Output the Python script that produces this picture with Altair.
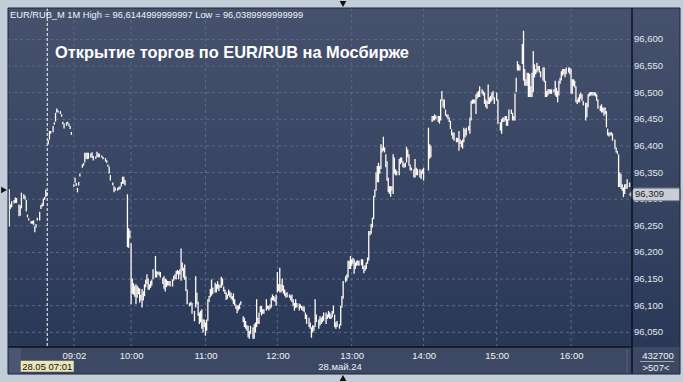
import altair as alt
import pandas as pd

# ---------------- data (bar index = 1-minute bar number, low, high) ----------------
bars_0701_0902 = [
    (1, 96.250, 96.318), (2, 96.283, 96.289), (3, 96.286, 96.295), (5, 96.293, 96.297),
    (6, 96.294, 96.302), (7, 96.294, 96.301), (9, 96.269, 96.289), (10, 96.270, 96.287),
    (11, 96.284, 96.311), (13, 96.302, 96.308), (14, 96.300, 96.305), (15, 96.278, 96.297),
    (16, 96.267, 96.270), (17, 96.261, 96.263), (19, 96.255, 96.258), (20, 96.255, 96.258),
    (21, 96.253, 96.259), (22, 96.239, 96.248), (23, 96.248, 96.252), (24, 96.261, 96.264),
    (26, 96.261, 96.275), (27, 96.283, 96.288), (28, 96.287, 96.291), (29, 96.289, 96.300),
    (30, 96.300, 96.303), (31, 96.305, 96.317), (32, 96.308, 96.312), (33, 96.404, 96.410),
    (34, 96.413, 96.427), (35, 96.424, 96.427), (37, 96.427, 96.436), (38, 96.441, 96.443),
    (39, 96.447, 96.461), (40, 96.464, 96.469), (41, 96.464, 96.466), (43, 96.461, 96.464),
    (44, 96.456, 96.458), (45, 96.442, 96.444), (46, 96.434, 96.441), (48, 96.439, 96.443),
    (49, 96.443, 96.444), (50, 96.438, 96.441), (51, 96.433, 96.436), (52, 96.422, 96.425),
]
bars_0902_1000 = [
    (54, 96.324, 96.327), (55, 96.332, 96.339), (56, 96.326, 96.329), (57, 96.314, 96.320),
    (58, 96.327, 96.331), (59, 96.344, 96.347), (61, 96.360, 96.364), (62, 96.364, 96.367),
    (63, 96.370, 96.386), (64, 96.377, 96.386), (65, 96.376, 96.386), (66, 96.377, 96.386),
    (68, 96.379, 96.385), (69, 96.379, 96.387), (70, 96.374, 96.380), (72, 96.377, 96.379),
    (73, 96.380, 96.388), (74, 96.380, 96.385), (75, 96.380, 96.384), (77, 96.379, 96.381),
    (78, 96.376, 96.378), (80, 96.372, 96.376), (81, 96.369, 96.372), (82, 96.362, 96.364),
    (83, 96.349, 96.360), (84, 96.336, 96.344), (86, 96.327, 96.330), (87, 96.314, 96.323),
    (88, 96.317, 96.320), (90, 96.317, 96.320), (91, 96.319, 96.322), (92, 96.320, 96.323),
    (93, 96.325, 96.331), (94, 96.330, 96.341), (95, 96.330, 96.341), (96, 96.327, 96.335),
    (98, 96.211, 96.308), (99, 96.210, 96.244), (100, 96.228, 96.240),
]
bars_1000_1100 = [
    (101, 96.104, 96.216), (102, 96.123, 96.150), (103, 96.122, 96.141), (104, 96.118, 96.136),
    (105, 96.104, 96.139), (106, 96.116, 96.136), (107, 96.123, 96.133), (108, 96.107, 96.131),
    (109, 96.111, 96.120), (110, 96.098, 96.130), (111, 96.111, 96.126), (112, 96.119, 96.139),
    (113, 96.136, 96.148), (114, 96.142, 96.158), (115, 96.131, 96.150), (116, 96.131, 96.139),
    (117, 96.135, 96.145), (118, 96.139, 96.148), (119, 96.151, 96.167), (121, 96.154, 96.192),
    (122, 96.154, 96.164), (123, 96.160, 96.162), (124, 96.158, 96.163), (125, 96.154, 96.162),
    (127, 96.142, 96.151), (128, 96.133, 96.154), (129, 96.128, 96.150), (130, 96.136, 96.148),
    (131, 96.139, 96.145), (132, 96.139, 96.145), (133, 96.137, 96.145), (135, 96.137, 96.148),
    (136, 96.148, 96.155), (137, 96.151, 96.158), (138, 96.151, 96.164), (139, 96.160, 96.166),
    (140, 96.151, 96.164), (141, 96.160, 96.167), (142, 96.148, 96.206), (143, 96.167, 96.180),
    (144, 96.154, 96.170), (145, 96.150, 96.176), (146, 96.129, 96.154), (147, 96.104, 96.129),
    (149, 96.100, 96.104), (150, 96.102, 96.106), (151, 96.086, 96.104), (153, 96.072, 96.089),
    (154, 96.098, 96.154), (155, 96.104, 96.123), (156, 96.082, 96.106), (157, 96.067, 96.086),
    (158, 96.070, 96.089), (159, 96.058, 96.092), (160, 96.051, 96.073), (161, 96.061, 96.073),
]
bars_1100_1200 = [
    (162, 96.045, 96.067), (163, 96.054, 96.073), (164, 96.073, 96.111), (165, 96.108, 96.117),
    (166, 96.117, 96.130), (167, 96.120, 96.148), (168, 96.123, 96.133), (170, 96.126, 96.142),
    (171, 96.126, 96.139), (172, 96.133, 96.145), (173, 96.129, 96.139), (174, 96.135, 96.137),
    (175, 96.135, 96.153), (176, 96.139, 96.150), (177, 96.128, 96.135), (178, 96.123, 96.129),
    (179, 96.112, 96.124), (180, 96.114, 96.120), (181, 96.120, 96.129), (182, 96.117, 96.126),
    (183, 96.114, 96.123), (184, 96.111, 96.117), (185, 96.104, 96.122), (186, 96.101, 96.111),
    (187, 96.095, 96.101), (188, 96.087, 96.099), (189, 96.092, 96.099), (190, 96.095, 96.103),
    (191, 96.103, 96.107), (193, 96.070, 96.079), (194, 96.061, 96.076), (195, 96.058, 96.070),
    (196, 96.054, 96.062), (197, 96.042, 96.061), (198, 96.039, 96.051), (199, 96.048, 96.061),
    (201, 96.039, 96.058), (202, 96.039, 96.064), (203, 96.051, 96.067), (204, 96.061, 96.111),
    (205, 96.067, 96.076), (206, 96.067, 96.086), (207, 96.089, 96.098), (208, 96.083, 96.098),
    (209, 96.086, 96.092), (210, 96.086, 96.092), (212, 96.092, 96.111), (213, 96.095, 96.099),
    (214, 96.092, 96.098), (215, 96.095, 96.101), (216, 96.098, 96.114), (217, 96.111, 96.120),
    (218, 96.111, 96.117), (219, 96.108, 96.114), (220, 96.101, 96.120),
]
bars_1200_1300 = [
    (221, 96.126, 96.162), (222, 96.129, 96.139), (223, 96.126, 96.170), (224, 96.126, 96.139),
    (225, 96.129, 96.150), (226, 96.124, 96.137), (227, 96.120, 96.129), (228, 96.116, 96.123),
    (229, 96.117, 96.124), (231, 96.116, 96.120), (232, 96.111, 96.118), (233, 96.108, 96.120),
    (234, 96.101, 96.111), (235, 96.092, 96.104), (236, 96.097, 96.111), (237, 96.098, 96.104),
    (239, 96.092, 96.103), (240, 96.097, 96.101), (241, 96.093, 96.098), (242, 96.091, 96.097),
    (243, 96.089, 96.097), (244, 96.076, 96.086), (245, 96.067, 96.082), (247, 96.061, 96.076),
    (248, 96.058, 96.067), (249, 96.041, 96.058), (250, 96.051, 96.062), (251, 96.054, 96.061),
    (252, 96.061, 96.111), (253, 96.070, 96.082), (255, 96.058, 96.073), (256, 96.064, 96.079),
    (257, 96.067, 96.076), (258, 96.070, 96.079), (259, 96.073, 96.086), (261, 96.067, 96.086),
    (262, 96.076, 96.082), (263, 96.079, 96.089), (264, 96.076, 96.086), (265, 96.076, 96.082),
    (266, 96.079, 96.089), (267, 96.086, 96.099), (268, 96.061, 96.082), (269, 96.058, 96.067),
    (270, 96.061, 96.070), (272, 96.058, 96.064), (273, 96.064, 96.098), (274, 96.098, 96.117),
    (275, 96.114, 96.145), (277, 96.145, 96.154), (278, 96.148, 96.158), (279, 96.154, 96.183),
    (280, 96.170, 96.183), (281, 96.170, 96.192),
]
bars_1300_1400 = [
    (282, 96.176, 96.186), (283, 96.180, 96.189), (284, 96.161, 96.186), (285, 96.170, 96.180),
    (286, 96.176, 96.183), (287, 96.177, 96.184), (288, 96.176, 96.183), (290, 96.177, 96.186),
    (291, 96.170, 96.186), (292, 96.162, 96.173), (293, 96.167, 96.175), (294, 96.170, 96.180),
    (295, 96.180, 96.189), (296, 96.186, 96.239), (297, 96.233, 96.239), (298, 96.236, 96.252),
    (299, 96.248, 96.264), (300, 96.264, 96.305), (301, 96.305, 96.317), (302, 96.317, 96.349),
    (303, 96.333, 96.361), (304, 96.333, 96.367), (305, 96.349, 96.361), (306, 96.358, 96.402),
    (307, 96.389, 96.396), (308, 96.392, 96.416), (309, 96.389, 96.396), (310, 96.361, 96.383),
    (311, 96.336, 96.370), (312, 96.314, 96.339), (313, 96.311, 96.323), (314, 96.306, 96.323),
    (315, 96.317, 96.323), (316, 96.311, 96.383), (317, 96.349, 96.377), (318, 96.346, 96.355),
    (319, 96.346, 96.352), (321, 96.346, 96.374), (322, 96.367, 96.377), (323, 96.370, 96.377),
    (324, 96.361, 96.370), (325, 96.360, 96.366), (326, 96.361, 96.367), (327, 96.370, 96.397),
    (328, 96.380, 96.392), (329, 96.364, 96.383), (330, 96.355, 96.364), (331, 96.355, 96.358),
    (333, 96.342, 96.355), (334, 96.342, 96.374), (335, 96.346, 96.358), (336, 96.346, 96.355),
    (338, 96.342, 96.355), (339, 96.339, 96.352), (340, 96.349, 96.355), (341, 96.336, 96.358),
]
bars_1400_1500 = [
    (345, 96.355, 96.433), (346, 96.377, 96.402), (347, 96.380, 96.399), (348, 96.446, 96.455),
    (349, 96.449, 96.455), (350, 96.449, 96.458), (351, 96.452, 96.456), (353, 96.446, 96.455),
    (354, 96.443, 96.455), (355, 96.449, 96.486), (356, 96.486, 96.502), (357, 96.474, 96.486),
    (358, 96.471, 96.486), (359, 96.458, 96.467), (360, 96.455, 96.458), (361, 96.452, 96.458),
    (362, 96.446, 96.452), (363, 96.433, 96.446), (364, 96.421, 96.430), (365, 96.414, 96.424),
    (366, 96.411, 96.424), (368, 96.408, 96.414), (369, 96.408, 96.414), (370, 96.392, 96.427),
    (371, 96.405, 96.411), (372, 96.399, 96.408), (373, 96.396, 96.411), (374, 96.408, 96.433),
    (375, 96.417, 96.430), (376, 96.421, 96.433), (378, 96.430, 96.436), (379, 96.424, 96.452),
    (380, 96.449, 96.483), (381, 96.480, 96.486), (382, 96.481, 96.486), (383, 96.481, 96.486),
    (384, 96.461, 96.496), (385, 96.490, 96.499), (386, 96.493, 96.502), (387, 96.493, 96.511),
    (389, 96.499, 96.505), (390, 96.496, 96.502), (391, 96.480, 96.499), (392, 96.474, 96.486),
    (393, 96.471, 96.483), (394, 96.480, 96.514), (395, 96.480, 96.490), (396, 96.483, 96.493),
    (397, 96.486, 96.499), (398, 96.490, 96.502), (399, 96.480, 96.490), (401, 96.486, 96.499),
]
bars_1500_1600 = [
    (402, 96.443, 96.486), (404, 96.430, 96.443), (405, 96.424, 96.449), (406, 96.446, 96.452),
    (407, 96.446, 96.452), (408, 96.449, 96.455), (409, 96.439, 96.455), (410, 96.439, 96.449),
    (411, 96.449, 96.467), (413, 96.461, 96.467), (414, 96.449, 96.461), (415, 96.449, 96.455),
    (416, 96.449, 96.497), (417, 96.502, 96.527), (418, 96.543, 96.558), (419, 96.543, 96.552),
    (420, 96.543, 96.549), (422, 96.555, 96.590), (423, 96.524, 96.615), (424, 96.514, 96.543),
    (425, 96.514, 96.524), (426, 96.514, 96.536), (427, 96.493, 96.536), (428, 96.493, 96.534),
    (429, 96.493, 96.511), (430, 96.493, 96.536), (431, 96.502, 96.577), (432, 96.530, 96.552),
    (433, 96.536, 96.543), (434, 96.539, 96.555), (435, 96.543, 96.549), (436, 96.539, 96.549),
    (437, 96.530, 96.539), (439, 96.524, 96.546), (440, 96.521, 96.546), (441, 96.493, 96.521),
    (442, 96.493, 96.502), (443, 96.496, 96.505), (444, 96.499, 96.505), (445, 96.499, 96.505),
    (446, 96.499, 96.505), (448, 96.502, 96.505), (449, 96.496, 96.521), (450, 96.493, 96.508),
    (451, 96.483, 96.502), (452, 96.496, 96.521), (453, 96.518, 96.527), (454, 96.524, 96.539),
    (455, 96.533, 96.543), (456, 96.536, 96.543), (457, 96.530, 96.543), (458, 96.536, 96.546),
    (460, 96.539, 96.546), (461, 96.536, 96.546),
]
bars_1600_close = [
    (462, 96.499, 96.543), (463, 96.499, 96.524), (464, 96.514, 96.524), (465, 96.511, 96.521),
    (466, 96.483, 96.511), (467, 96.480, 96.486), (468, 96.483, 96.490), (469, 96.483, 96.496),
    (470, 96.490, 96.499), (471, 96.486, 96.496), (472, 96.477, 96.483), (474, 96.449, 96.480),
    (475, 96.455, 96.480), (476, 96.474, 96.496), (477, 96.494, 96.499), (478, 96.496, 96.500),
    (479, 96.496, 96.500), (480, 96.496, 96.500), (481, 96.496, 96.500), (482, 96.494, 96.499),
    (483, 96.486, 96.496), (484, 96.471, 96.486), (486, 96.467, 96.474), (487, 96.464, 96.477),
    (488, 96.464, 96.471), (489, 96.458, 96.471), (490, 96.461, 96.471), (491, 96.436, 96.464),
    (492, 96.421, 96.431), (493, 96.419, 96.424), (494, 96.421, 96.424), (495, 96.421, 96.425),
    (496, 96.411, 96.422), (498, 96.396, 96.411), (499, 96.389, 96.396), (500, 96.386, 96.389),
    (501, 96.324, 96.383), (502, 96.324, 96.349), (503, 96.321, 96.346), (504, 96.317, 96.327),
    (505, 96.305, 96.321), (506, 96.311, 96.327), (507, 96.321, 96.327), (508, 96.321, 96.336),
    (510, 96.324, 96.330), (511, 96.308, 96.311),
]

tick_bars = [54, 101, 162, 221, 282, 341, 401, 462]
tick_labels = ["09:02", "10:00", "11:00", "12:00", "13:00", "14:00", "15:00", "16:00"]
price_levels = [96.05, 96.10, 96.15, 96.20, 96.25, 96.30, 96.35, 96.40, 96.45, 96.50, 96.55, 96.60]
cursor_bar = [32.2]
cursor_label = "28.05 07:01"
date_label = "28.май.24"
last_price = [96.309]
session_high = "96,6144999999997"
session_low = "96,0389999999999"
header = f"EUR/RUB_M 1M High = {session_high} Low = {session_low}"
title_text = "Открытие торгов по EUR/RUB на Мосбирже"
volume_text = "432700"
count_text = ">507<"

# ---------------- build ----------------
rows = []
for seg in [bars_0701_0902, bars_0902_1000, bars_1000_1100, bars_1100_1200, bars_1200_1300,
            bars_1300_1400, bars_1400_1500, bars_1500_1600, bars_1600_close]:
    for b, lo, hi in seg:
        rows.append({"bar": b, "low": lo, "high": hi})
bars = pd.DataFrame(rows)

W, H = 624, 339
FONT = "Liberation Sans"
xs = alt.Scale(domain=[0, 512], nice=False, zero=False)
ys = alt.Scale(domain=[96.0224, 96.659], nice=False, zero=False)

label_expr = " : ".join(f"datum.value == {b} ? '{t}'" for b, t in zip(tick_bars, tick_labels)) + " : ''"
x_axis = alt.Axis(values=tick_bars, labelExpr=label_expr, grid=False, ticks=False, domain=False,
                  labelColor="#eef1f5", labelFont=FONT, labelFontSize=9.5, labelPadding=3,
                  labelFlush=False, labelOverlap=False, title=None, zindex=1)

one = pd.DataFrame({"k": [0]})

bg = alt.Chart(one).mark_rect(
    color=alt.LinearGradient(gradient="linear",
                             stops=[alt.GradientStop(color="#46526d", offset=0),
                                    alt.GradientStop(color="#2a3858", offset=1)],
                             x1=0, x2=0, y1=0, y2=1)
).encode(x=alt.value(0), x2=alt.value(672), y=alt.value(0), y2=alt.value(H))

band = alt.Chart(one).mark_rect(color="#3d4964").encode(
    x=alt.value(0), x2=alt.value(672), y=alt.value(H), y2=alt.value(366))
band_left = alt.Chart(one).mark_rect(color="#4b5771").encode(
    x=alt.value(0), x2=alt.value(13), y=alt.value(H), y2=alt.value(366))

levels_df = pd.DataFrame({"level": price_levels})
hgrid = alt.Chart(levels_df).mark_rule(color="#5d6a87", strokeDash=[3, 3], strokeWidth=1).encode(
    y=alt.Y("level:Q", scale=ys, axis=None), x=alt.value(0), x2=alt.value(W))

ticks_df = pd.DataFrame({"bar": tick_bars})
vgrid = alt.Chart(ticks_df).mark_rule(color="#5d6a87", strokeDash=[3, 3], strokeWidth=1).encode(
    x=alt.X("bar:Q", scale=xs, axis=x_axis), y=alt.value(0), y2=alt.value(H))

cursor = alt.Chart(pd.DataFrame({"bar": cursor_bar})).mark_rule(
    color="#ffffff", strokeDash=[3, 2], strokeWidth=1).encode(
    x=alt.X("bar:Q", scale=xs, axis=x_axis), y=alt.value(0), y2=alt.value(H))

bar_marks = alt.Chart(bars).mark_rule(color="#fffaf6", strokeWidth=1.3, strokeCap="square").encode(
    x=alt.X("bar:Q", scale=xs, axis=x_axis),
    y=alt.Y("low:Q", scale=ys, axis=None),
    y2="high:Q")

ylabels = alt.Chart(levels_df).transform_calculate(
    lab="replace(format(datum.level, '.3f'), '.', ',')"
).mark_text(align="left", baseline="middle", color="#e3e7ee", fontSize=9.5, font=FONT).encode(
    y=alt.Y("level:Q", scale=ys, axis=None), x=alt.value(W + 2), text="lab:N")

price_df = pd.DataFrame({"price": last_price})
tag = alt.Chart(price_df).mark_point(
    shape="M-1,0L-0.8,-0.245L1,-0.245L1,0.245L-0.8,0.245Z", size=2601, filled=True,
    fill="#c9ced6", stroke="#7f8898", strokeWidth=1, opacity=1).encode(
    y=alt.Y("price:Q", scale=ys, axis=None), x=alt.value(646.5))
tag_text = alt.Chart(price_df).transform_calculate(
    lab="replace(format(datum.price, '.3f'), '.', ',')"
).mark_text(align="left", baseline="middle", color="#1c1c1c", fontSize=9.5, font=FONT).encode(
    y=alt.Y("price:Q", scale=ys, axis=None), x=alt.value(627), text="lab:N")

cur_df = pd.DataFrame({"bar": cursor_bar, "lab": [cursor_label]})
cur_box = alt.Chart(cur_df).mark_point(
    shape="M-1,-0.2075H1V0.2075H-1Z", size=2809, filled=True, fill="#ebe6b8", opacity=1).encode(
    x=alt.X("bar:Q", scale=xs, axis=x_axis), y=alt.value(358.3))
cur_text = alt.Chart(cur_df).mark_text(align="center", baseline="middle", color="#111111",
                                       fontSize=9.5, font=FONT).encode(
    x=alt.X("bar:Q", scale=xs, axis=x_axis), y=alt.value(358.5), text="lab:N")

def txt(s, x, y, size=9.5, color="#eef1f5", align="left", weight="normal"):
    return alt.Chart(pd.DataFrame({"t": [s]})).mark_text(
        align=align, baseline="middle", color=color, fontSize=size, font=FONT, fontWeight=weight
    ).encode(x=alt.value(x), y=alt.value(y), text="t:N")

date_t = txt(date_label, 332, 359, align="center")
vol_t = txt(volume_text, 650, 347.5, align="center")
cnt_t = txt(count_text, 648, 359.5, align="center")
header_t = txt(header, 2, 7, size=9.3, color="#f2f4f8")
title_t = txt(title_text, 47, 45, size=16.4, color="#ffffff", weight="bold")

def line(x1, x2, y1, y2, color, width=1):
    return alt.Chart(one).mark_rule(color=color, strokeWidth=width).encode(
        x=alt.value(x1), x2=alt.value(x2), y=alt.value(y1), y2=alt.value(y2))

sep_h = line(632, 666, 353.5, 353.5, "#a0a8b6")
sep_v = line(619, 619, 342, 365, "#5a6478")
border_r = line(W, W, 0, 366, "#0d1220", 1.5)
border_b = line(0, W, H, H, "#0d1220", 1.5)
outline = alt.Chart(one).mark_rect(fill=None, stroke="#1d2536", strokeWidth=1).encode(
    x=alt.value(0), x2=alt.value(672), y=alt.value(0), y2=alt.value(366))

def tri(shape, x, y):
    return alt.Chart(one).mark_point(shape=shape, size=45, filled=True, color="#111111", opacity=1).encode(
        x=alt.value(x), y=alt.value(y))

tri_top = tri("triangle-down", 335, -4)
tri_bot = tri("triangle-up", 335, 370)
tri_left = tri("triangle-right", -4, 182)

chart = alt.layer(
    bg, band, band_left, hgrid, vgrid, cursor, bar_marks, ylabels, tag, tag_text,
    cur_box, cur_text, date_t, vol_t, cnt_t, header_t, title_t,
    sep_h, sep_v, border_r, border_b, outline, tri_top, tri_bot, tri_left
).properties(
    width=W, height=H,
    padding={"left": 8, "top": 8, "right": 51, "bottom": 35},
    autosize=alt.AutoSizeParams(type="none"),
    background="#c3cdd9",
).configure_view(stroke=None)

chart.save("out.html", embed_options={"renderer": "svg", "actions": False})
